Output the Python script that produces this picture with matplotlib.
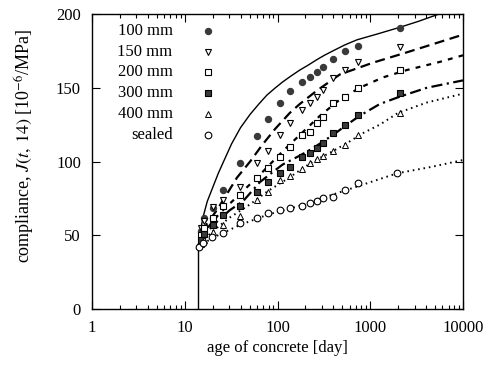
import numpy as np
import matplotlib
matplotlib.use("Agg")
import matplotlib.pyplot as plt
from matplotlib.ticker import LogLocator, NullFormatter, FixedLocator

plt.rcParams['font.family'] = ['Liberation Serif', 'DejaVu Serif']
plt.rcParams['mathtext.fontset'] = 'stix'

# ---------------- data ----------------
series_labels = ["100 mm", "150 mm", "200 mm", "300 mm", "400 mm", "sealed"]

t_data = [15, 16, 20, 26, 39, 60, 79, 106, 136, 184, 224, 267, 310, 397, 534, 738, 2090]
J_100 = [53, 62, 68.5, 81, 99, 117, 129, 140, 148, 154, 157, 161, 164, 169.5, 175, 178, 190.5]
J_150 = [55, 60, 69, 74, 83, 99, 107, 118, 126, 135, 140, 144, 148.5, 156.6, 162, 167.5, 177.6]
J_200 = [50, 55, 62, 70, 77, 89, 95.6, 103, 110, 118, 120, 126, 130, 139.7, 144, 150, 162]
J_300 = [47, 51, 57, 64, 70, 79, 86, 92, 96, 103, 106, 109, 112.5, 119, 125, 131.5, 146.4]
J_400 = [44, 47, 52, 57, 63, 74, 79, 87.5, 90, 95, 99, 102, 104, 107, 111, 118, 133]
t_sealed = [14.2, 15.7, 19.7, 25.8, 39.4, 60, 79, 106, 136, 184, 224, 267, 310, 397, 534, 738, 1960]
J_sealed = [42, 45, 49, 51.5, 58, 62, 65, 67, 68.5, 70, 72, 73, 75, 76, 80.7, 85.4, 92]

# model curves
tc_100 = [14, 14.5, 15.7, 17.5, 20.2, 23, 25.8, 32, 40, 50.7, 63, 76.8, 95, 114, 140, 174, 210, 265,
          320, 396, 530, 720, 1200, 2090, 3300, 5250, 10000]
Jc_100 = [42, 50, 62, 73, 83, 92, 99, 112, 123, 132, 139, 145, 150, 154, 158, 162, 165, 169,
          172, 175, 179, 182.5, 186.5, 191, 195, 199.5, 205]
tc_150 = [14, 15, 17.4, 22.2, 28.5, 36.5, 50.7, 68, 94, 136, 174, 265, 470, 1070, 2480, 5600, 10000]
Jc_150 = [42, 50, 58, 67, 78, 89, 100, 111, 122, 133, 139, 148, 159, 167, 174, 181, 186]
tc_200 = [14, 14.6, 18.7, 23.9, 39.4, 64.5, 114, 174, 287, 470, 770, 1370, 2480, 5600, 10000]
Jc_200 = [42, 48, 57, 65, 78, 91, 107, 118, 131, 142, 150, 157, 162, 167.5, 172]
tc_300 = [14, 14.6, 21.2, 30.6, 42.4, 64.5, 89.5, 114, 174, 241, 396, 562, 770, 1270, 2090, 4080, 10000]
Jc_300 = [42, 47, 58, 67, 73, 86, 93, 98, 104, 109, 118, 125, 131, 139, 144, 150, 155]
tc_400 = [14, 14.6, 21.2, 30.6, 50.7, 78.8, 126, 174, 241, 370, 562, 820, 1270, 2000, 4080, 10000]
Jc_400 = [42, 45, 54, 62, 71, 80, 88, 94, 100, 106, 112.5, 119, 125, 133, 140, 146]
tc_sealed = [14, 19.6, 39.4, 78.8, 174, 370, 720, 1950, 4700, 10000]
Jc_sealed = [42, 48, 57, 64, 70, 77, 83, 92, 96.5, 101]

t_load = [14, 14]
J_load = [0, 42]

x_ticks = [1, 10, 100, 1000, 10000]
x_ticklabels = ["1", "10", "100", "1000", "10000"]
y_ticks = [0, 50, 100, 150, 200]

# ---------------- figure ----------------
fig = plt.figure(figsize=(4.96, 3.68), dpi=100)
ax = fig.add_axes([92/496, 1-309/368, (463-92)/496, (309-14)/368])
ax.set_xscale('log')
ax.set_xlim(1, 10000)
ax.set_ylim(0, 200)

k = 'black'
fill = '#3a3a3a'
ax.plot(t_load, J_load, color=k, lw=1.0)
ax.plot(tc_100, Jc_100, color=k, lw=1.0, ls='-')
ax.plot(tc_150, Jc_150, color=k, lw=1.6, ls=(0, (4.5, 2.5)))
ax.plot(tc_200, Jc_200, color=k, lw=1.6, ls=(0, (2.2, 2.8)))
ax.plot(tc_300, Jc_300, color=k, lw=1.6, ls=(0, (5, 2, 1, 2)))
ax.plot(tc_400, Jc_400, color=k, lw=1.4, ls=(0, (0.8, 2.0)))
ax.plot(tc_sealed, Jc_sealed, color=k, lw=1.4, ls=(0, (0.8, 2.0)))

styles = [
    dict(marker='o', ms=4.3, mfc=fill, mec=fill),
    dict(marker='v', ms=4.8, mfc='white', mec=k, mew=0.8),
    dict(marker='s', ms=5.0, mfc='white', mec=k, mew=0.8),
    dict(marker='s', ms=5.0, mfc=fill, mec=k, mew=0.8),
    dict(marker='^', ms=4.3, mfc='white', mec=k, mew=0.7),
    dict(marker='o', ms=4.8, mfc='white', mec=k, mew=0.8),
]
xs = [t_data, t_data, t_data, t_data, t_data, t_sealed]
ys = [J_100, J_150, J_200, J_300, J_400, J_sealed]
for x, y, st in zip(xs, ys, styles):
    ax.plot(x, y, ls='none', **st, zorder=3)

# legend (text right-aligned, marker after the text)
for i, (lab, st) in enumerate(zip(series_labels, styles)):
    yy = 0.943 - i * 0.0705
    ax.text(0.217, yy, lab, transform=ax.transAxes, ha='right', va='center', fontsize=12)
    ax.plot([0.313], [yy], transform=ax.transAxes, ls='none', clip_on=False, **st)

ax.xaxis.set_major_locator(FixedLocator(x_ticks))
ax.set_xticklabels(x_ticklabels)
ax.xaxis.set_minor_locator(LogLocator(base=10, subs=np.arange(2, 10), numticks=20))
ax.xaxis.set_minor_formatter(NullFormatter())
ax.set_yticks(y_ticks)
ax.tick_params(which='both', direction='in', top=True, right=True, labelsize=12, width=0.8)
ax.tick_params(which='major', length=6)
ax.tick_params(axis='x', which='major', pad=8)
ax.tick_params(axis='y', which='major', pad=8)
ax.tick_params(which='minor', length=3)
for s in ax.spines.values():
    s.set_linewidth(1.0)

ax.set_xlabel('age of concrete [day]', fontsize=12, labelpad=3)
ax.set_ylabel(r'compliance, $J(t,\,14)$ [10$^{-6}$/MPa]', fontsize=13)
ax.yaxis.set_label_coords(-0.148, 0.553)

fig.savefig('out.png', dpi=100)
